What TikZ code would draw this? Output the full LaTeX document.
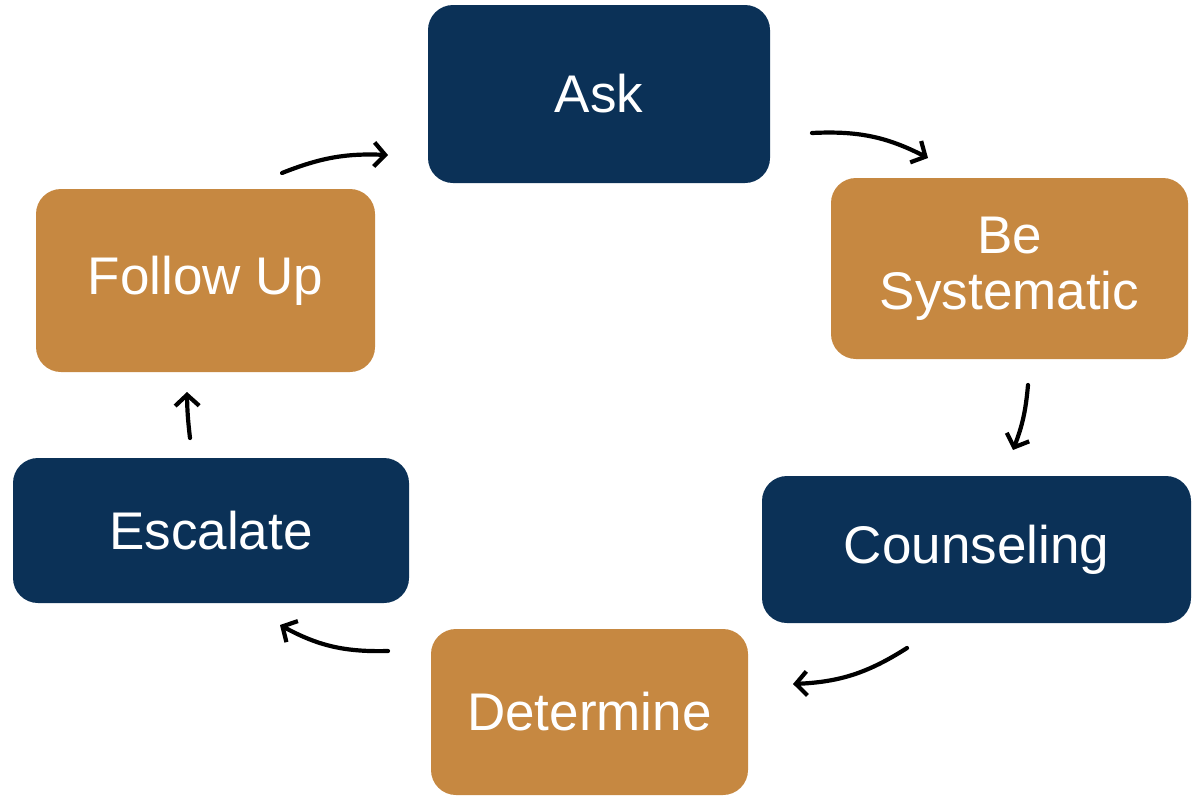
\documentclass[tikz,border=0pt]{standalone}
\usepackage{fontspec}
\setmainfont{Liberation Sans}
\usetikzlibrary{arrows.meta,positioning}
\definecolor{navyblue}{RGB}{11,49,87}
\definecolor{ochre}{RGB}{198,136,65}

\begin{document}
\begin{tikzpicture}[x=1pt,y=1pt,yscale=-1,xscale=1,
  box/.style = {rounded corners=25pt, text=white, align=center,
  font=\fontsize{53}{56}\selectfont, inner sep=0pt},
  dark/.style = {box, fill=navyblue},
  light/.style = {box, fill=ochre},
  link/.style = {line width=4.2pt, line cap=round,
  -{Straight Barb[length=11pt,width=24pt,line width=4.2pt]}}]
  \useasboundingbox (0,0) rectangle (1192,796);
  \node[dark, minimum width=342pt, minimum height=178pt] (ask) at (599,94) {Ask};
  \node[light, minimum width=357pt, minimum height=181pt] (sys) at (1009.5,268.5) {Be\\Systematic};
  \node[dark, minimum width=429pt, minimum height=147pt] (couns) at (976.5,549.5) {Counseling};
  \node[light, minimum width=317pt, minimum height=166pt] (det) at (589.5,712) {Determine};
  \node[dark, minimum width=396pt, minimum height=145pt] (esc) at (211,530.5) {Escalate};
  \node[light, minimum width=339pt, minimum height=183pt] (fu) at (205.5,280.5) {Follow Up};

  % arrow ends
  \coordinate (fu-a) at (282,173);
  \coordinate (ask-b) at (388,155);
  \coordinate (ask-a) at (812,133);
  \coordinate (sys-b) at (928,158);
  \coordinate (sys-a) at (1028,385);
  \coordinate (couns-b) at (1013,450);
  \coordinate (couns-a) at (907,648);
  \coordinate (det-b) at (793,684);
  \coordinate (det-a) at (388,651);
  \coordinate (esc-b) at (280,625);
  \coordinate (esc-a) at (190,438);
  \coordinate (fu-b) at (187,392);

  \draw[link] (fu-a) to[bend right=12] (ask-b);
  \draw[link] (ask-a) to[bend right=15] (sys-b);
  \draw[link] (sys-a) to[bend right=8] (couns-b);
  \draw[link] (couns-a) to[bend right=15] (det-b);
  \draw[link] (det-a) to[bend right=15] (esc-b);
  \draw[link] (esc-a) to[bend right=3] (fu-b);
\end{tikzpicture}
\end{document}
